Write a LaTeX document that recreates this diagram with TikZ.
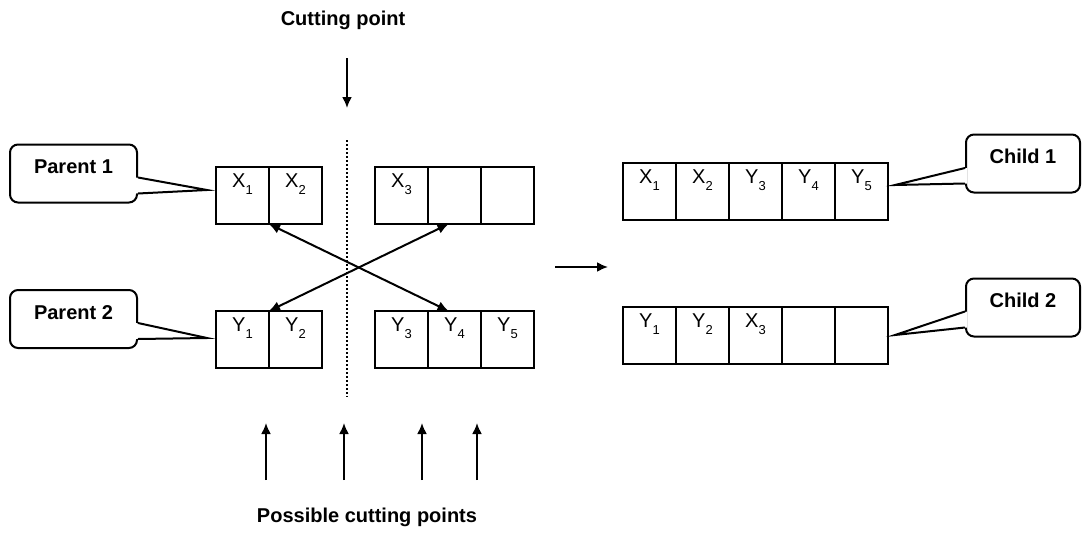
\documentclass[tikz,border=0pt]{standalone}
\usepackage{fontspec}
\setmainfont{Liberation Sans}
\usepackage{tikz}
\usetikzlibrary{arrows.meta}

\newcommand{\sbs}[1]{\raisebox{-7pt}{\fontsize{13}{13}\selectfont #1}}

\begin{document}
\begin{tikzpicture}[
		x               = 1pt,
		y               = -1pt,
		node distance   = 53pt,
		line width      = 2pt,
		>               = {Latex[length=11pt,width=10pt]},
		cell/.style     = {draw,
			rectangle,
			inner sep      = 0pt,
			outer sep      = 0pt,
			minimum width  = 53pt,
			minimum height = 57pt,
			text height    = 14pt,
			text depth     = 31pt,
			font = \fontsize{20}{24}\selectfont},
		callout/.style  = {draw,
			rectangle,
			rounded corners = 8pt,
			fill           = white,
			inner sep      = 0pt,
			minimum width  = 127pt,
			minimum height = 58pt,
			text height    = 13pt,
			text depth     = 13pt,
			font = \fontsize{20}{24}\selectfont\bfseries},
		note/.style     = {font = \fontsize{20}{24}\selectfont\bfseries}]
	
	\useasboundingbox (0,0) rectangle (1082,533);
	
	% parent 1
	\node[cell] (X1) at (242.5,195.5) {X\sbs{1}};
	\node[cell] (X2) [right of=X1] {X\sbs{2}};
	\node[inner sep=0,minimum size=0,right of=X2] (k1) {}; % invisible node
	\node[cell] (X3) [right of=k1] {X\sbs{3}};
	\node[cell] (E1) [right of=X3] {};
	\node[cell] (E2) [right of=E1] {};
	
	% parent 2
	\node[cell] (Y1) at (242.5,339.5) {Y\sbs{1}};
	\node[cell] (Y2) [right of=Y1] {Y\sbs{2}};
	\node[inner sep=0,minimum size=0,right of=Y2] (k2) {}; % invisible node
	\node[cell] (Y3) [right of=k2] {Y\sbs{3}};
	\node[cell] (Y4) [right of=Y3] {Y\sbs{4}};
	\node[cell] (Y5) [right of=Y4] {Y\sbs{5}};
	
	% child 1
	\node[cell] (C11) at (649.5,191.5) {X\sbs{1}};
	\node[cell] (C12) [right of=C11] {X\sbs{2}};
	\node[cell] (C13) [right of=C12] {Y\sbs{3}};
	\node[cell] (C14) [right of=C13] {Y\sbs{4}};
	\node[cell] (C15) [right of=C14] {Y\sbs{5}};
	
	% child 2
	\node[cell] (C21) at (649.5,335.5) {Y\sbs{1}};
	\node[cell] (C22) [right of=C21] {Y\sbs{2}};
	\node[cell] (C23) [right of=C22] {X\sbs{3}};
	\node[cell] (C24) [right of=C23] {};
	\node[cell] (C25) [right of=C24] {};
	
	% callouts
	\node[callout] (Par1) at (73.5,173.5) {Parent 1};
	\node[callout] (Par2) at (73.5,319) {Parent 2};
	\node[callout, minimum width=114pt] (Chi1) at (1023,163.5) {Child 1};
	\node[callout, minimum width=114pt] (Chi2) at (1023,307.5) {Child 2};
	
	\path[fill=white] ([xshift=-2pt,yshift=-4pt]Par1.east) -- ([xshift=-9pt,yshift=5.5pt]X1.west) -- ([xshift=-2pt,yshift=-20pt]Par1.east) -- cycle;
	\draw ([yshift=-4pt]Par1.east) -- ([xshift=-9pt,yshift=5.5pt]X1.west) -- ([yshift=-20pt]Par1.east);
	
	\path[fill=white] ([xshift=-2pt,yshift=-4pt]Par2.east) -- ([xshift=-9pt,yshift=1.5pt]Y1.west) -- ([xshift=-2pt,yshift=-20pt]Par2.east) -- cycle;
	\draw ([yshift=-4pt]Par2.east) -- ([xshift=-9pt,yshift=1.5pt]Y1.west) -- ([yshift=-20pt]Par2.east);
	
	\path[fill=white] ([xshift=2pt,yshift=-4.5pt]Chi1.west) -- ([xshift=7pt,yshift=6.5pt]C15.east) -- ([xshift=2pt,yshift=-20pt]Chi1.west) -- cycle;
	\draw ([yshift=-4.5pt]Chi1.west) -- ([xshift=7pt,yshift=6.5pt]C15.east) -- ([yshift=-20pt]Chi1.west);
	
	\path[fill=white] ([xshift=2pt,yshift=-4pt]Chi2.west) -- ([xshift=7pt,yshift=0.5pt]C25.east) -- ([xshift=2pt,yshift=-20pt]Chi2.west) -- cycle;
	\draw ([yshift=-4pt]Chi2.west) -- ([xshift=7pt,yshift=0.5pt]C25.east) -- ([yshift=-20pt]Chi2.west);
	
	% cutting point
	\node[note] (Cut) at (343,20) {Cutting point};
	\coordinate (cutA) at (347,58);
	\coordinate (cutB) at (347,108);
	\draw[->] (cutA) -- (cutB);
	
	\coordinate (dotA) at (347,140);
	\coordinate (dotB) at (347,397);
	\draw[dotted] (dotA) -- (dotB);
	
	% crossover
	\draw[<->] (X1.south east) -- ([xshift=-6pt]Y4.north);
	\draw[<->] ([xshift=-6pt]E1.south) -- (Y1.north east);
	
	\coordinate (midA) at (555,267);
	\coordinate (midB) at (608,267);
	\draw[->] (midA) -- (midB);
	
	% possible cutting points
	\node[note] (Poss) at (367,517) {Possible cutting points};
	\foreach \i/\x in {1/266, 2/344, 3/422, 4/477}
	{
		\coordinate (pa\i) at (\x,480);
		\coordinate (pb\i) at (\x,423);
		\draw[->] (pa\i) -- (pb\i);
	}
	
\end{tikzpicture}
\end{document}
